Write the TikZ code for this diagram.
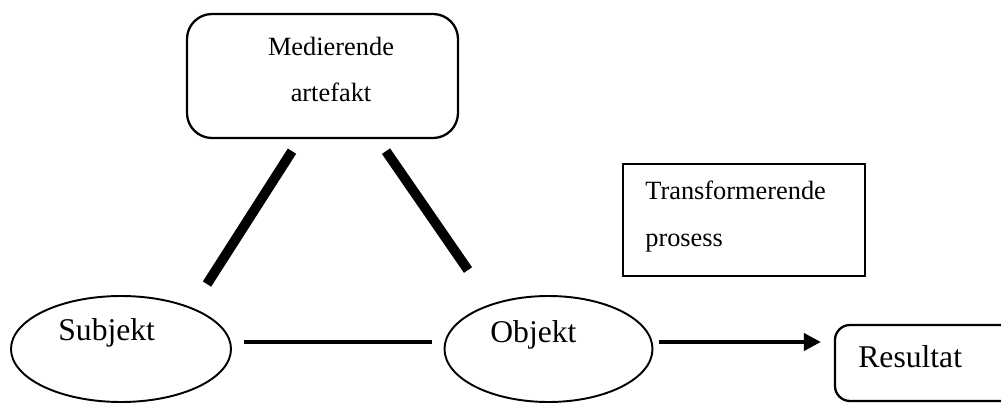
\documentclass[tikz,border=0pt]{standalone}
\usepackage{fontspec}
\setmainfont{Liberation Serif}
\usetikzlibrary{shapes.geometric,arrows.meta}

\begin{document}
\begin{tikzpicture}[x=0.2mm,y=-0.2mm,
    box/.style={draw,line width=1.3pt,inner sep=0pt},
    oval/.style={draw,ellipse,line width=1.1pt,inner sep=0pt,minimum height=21.2mm},
    big/.style={font=\fontsize{18}{22}\selectfont,inner sep=0pt},
    small/.style={font=\fontsize{15}{26.7}\selectfont,inner sep=0pt},
    mediation/.style={line width=5.6pt},
    relation/.style={line width=2.3pt}]
    \useasboundingbox (0,0) rectangle (1001,403);

    \node[box,rounded corners=5mm,minimum width=54.2mm,minimum height=24.8mm] (artefakt) at (322.5,76) {};
    \node[small,align=center] (artefakttxt) at (331,69.5) {Medierende\\artefakt};
    \node[box,minimum width=48.4mm,minimum height=22.4mm] (prosess) at (744,220) {};
    \node[small,align=left,anchor=west] (prosesstxt) at (645,216.5) {Transformerende\\prosess};
    \node[oval,minimum width=44mm] (subjekt) at (121,349) {};
    \node[big,anchor=base west] (subjekttxt) at (58,340) {Subjekt};
    \node[oval,minimum width=41.6mm] (objekt) at (548.5,349) {};
    \node[big,anchor=base west] (objekttxt) at (490,342) {Objekt};
    \node[box,rounded corners=3mm,minimum width=36mm,minimum height=15.2mm] (resultat) at (925,363) {};
    \node[big,anchor=base west] (resultattxt) at (858,367) {Resultat};

    \draw[mediation] ([shift={(-30.5,12)}]artefakt.south) -- ([shift={(86,-11)}]subjekt.north);
    \draw[mediation] ([shift={(63.5,12)}]artefakt.south) -- ([shift={(-80.5,-25)}]objekt.north);
    \draw[relation] ([shift={(12,-7)}]subjekt.east) -- ([shift={(-11.5,-7)}]objekt.west);
    \draw[relation,-{Triangle[length=3.4mm,width=3.4mm]}] ([shift={(5.5,-7)}]objekt.east) -- ([shift={(-13,-21)}]resultat.west);
\end{tikzpicture}
\end{document}
